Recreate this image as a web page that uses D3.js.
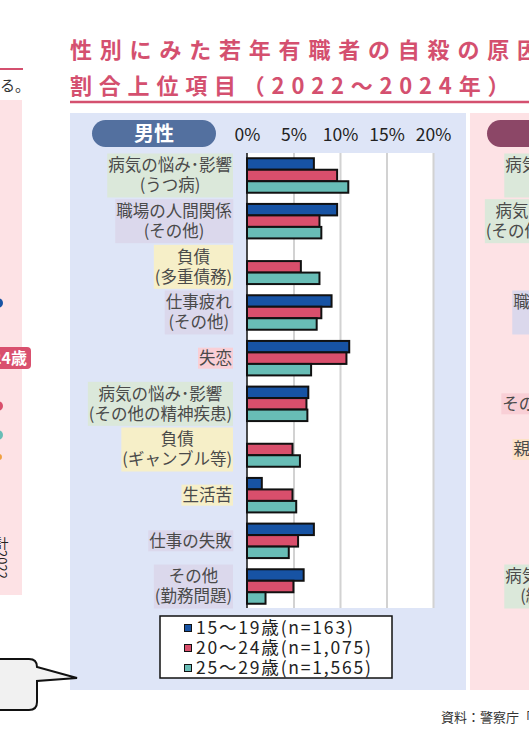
<!DOCTYPE html>
<html>
<head>
<meta charset="utf-8">
<script src="https://cdn.jsdelivr.net/npm/d3@7"></script>
<style>
html, body { margin: 0; padding: 0; background: #fff; overflow: hidden; }
svg { display: block; font-family: "Noto Sans CJK JP", "Noto Sans", sans-serif; }
</style>
</head>
<body>
<svg id="chart" width="529" height="751"></svg>
<script>
// --- data (% of cases) ---
const categories = [
	'病気の悩み･影響(うつ病)',
	'職場の人間関係(その他)',
	'負債(多重債務)',
	'仕事疲れ(その他)',
	'失恋',
	'病気の悩み･影響(その他の精神疾患)',
	'負債(ギャンブル等)',
	'生活苦',
	'仕事の失敗',
	'その他(勤務問題)'
]
const labelLines = [
	['病気の悩み･影響', '(うつ病)'],
	['職場の人間関係', '(その他)'],
	['負債', '(多重債務)'],
	['仕事疲れ', '(その他)'],
	['失恋'],
	['病気の悩み･影響', '(その他の精神疾患)'],
	['負債', '(ギャンブル等)'],
	['生活苦'],
	['仕事の失敗'],
	['その他', '(勤務問題)']
]
const labelTones = ['health', 'work', 'debt', 'work', 'love', 'health', 'debt', 'debt', 'work', 'work']

const ageGroups = ['15～19歳(n=163)', '20～24歳(n=1,075)', '25～29歳(n=1,565)']
const age15to19 = [7.3, 9.8, null, 9.2, 11.1, 6.7, null, 1.7, 7.3, 6.2]
const age20to24 = [9.8, 7.9, 5.9, 8.1, 10.8, 6.5, 5.0, 5.0, 5.6, 5.1]
const age25to29 = [11.0, 8.1, 7.9, 7.6, 7.0, 6.6, 5.8, 5.4, 4.6, 2.1]
const tickValues = [0, 5, 10, 15, 20]

// female panel, only the left edge is inside the picture
const femaleLabelLines = [
	['病気の悩み･影響', '(うつ病)'],
	['病気の悩み･影響', '(その他の精神疾患)'],
	[],
	['職場の人間関係', '(その他)'],
	[],
	['その他(交際問題)'],
	['親子関係の不和'],
	[],
	[],
	['病気の悩み･影響', '(統合失調症)']
]
const femaleLabelTones = ['health', 'health', '', 'work', '', 'love', 'family', '', '', 'health']

const toneColors = {
	health: '#dbe8da',
	work: '#dbd8ec',
	debt: '#f6efc8',
	love: '#f9cfd6',
	family: '#fde2c6'
}
const seriesColors = ['#1753a4', '#d94f6c', '#68bdb6']

const svg = d3.select('#chart')

// --- backgrounds and cropped neighbours ---
function drawSurroundings() {
	svg.append('rect').attr('x', 0).attr('y', 100).attr('width', 22).attr('height', 495).attr('fill', '#fde2e5')
	svg.append('rect').attr('x', 70).attr('y', 113).attr('width', 396).attr('height', 577).attr('fill', '#dee5f7')
	svg.append('rect').attr('x', 470).attr('y', 113).attr('width', 100).attr('height', 577).attr('fill', '#fde2e5')

	// left page fragment
	svg.append('line').attr('x1', 0).attr('x2', 23).attr('y1', 69).attr('y2', 69)
		.attr('stroke', '#d4506f').attr('stroke-width', 2)
	svg.append('text').attr('x', 30).attr('y', 91).attr('text-anchor', 'end')
		.attr('font-size', 15).attr('fill', '#333').text('る。')
	svg.append('circle').attr('cx', -2).attr('cy', 303).attr('r', 5).attr('fill', seriesColors[0])
	svg.append('rect').attr('x', -40).attr('y', 347).attr('width', 71).attr('height', 22).attr('rx', 4)
		.attr('fill', '#d9506e')
	svg.append('text').attr('x', 27).attr('y', 358).attr('dy', '0.36em').attr('text-anchor', 'end')
		.attr('font-size', 16).attr('font-weight', 'bold').attr('fill', '#fff').text('20～24歳')
	svg.append('circle').attr('cx', -2).attr('cy', 406).attr('r', 5).attr('fill', seriesColors[1])
	svg.append('circle').attr('cx', -2).attr('cy', 435).attr('r', 5).attr('fill', seriesColors[2])
	svg.append('circle').attr('cx', -1).attr('cy', 457).attr('r', 3).attr('fill', '#f0a040')
	svg.append('text').attr('x', 2).attr('y', 537)
		.attr('font-size', 13).attr('fill', '#222')
		.style('writing-mode', 'vertical-rl')
		.text('計2022')

	// speech bubble
	svg.append('path')
		.attr('d', 'M-20,659 H29 Q37,659 37,667 L77,678 L37,681 V702 Q37,710 29,710 H-20 Z')
		.attr('fill', '#f1f1f1').attr('stroke', '#111').attr('stroke-width', 2)

	// source
	svg.append('text').attr('x', 441).attr('y', 722).attr('font-size', 13).attr('fill', '#333')
		.text('資料：警察庁「自殺統計」より厚生労働省作成')
}

function drawTitle() {
	const t = svg.append('g').attr('fill', '#d4506f').attr('font-weight', 'bold').attr('font-size', 22)
	t.append('text').attr('x', 70).attr('y', 58).style('letter-spacing', '7.8px')
		.text('性別にみた若年有職者の自殺の原因・動機')
	t.append('text').attr('x', 70).attr('y', 94).style('letter-spacing', '6.8px')
		.text('割合上位項目（2022～2024年）')
	svg.append('line').attr('x1', 70).attr('x2', 529).attr('y1', 102).attr('y2', 102)
		.attr('stroke', '#d4506f').attr('stroke-width', 2.5)
}

function drawPill(x, label, color) {
	svg.append('rect').attr('x', x).attr('y', 120).attr('width', 124).attr('height', 27).attr('rx', 13.5)
		.attr('fill', color)
	svg.append('text').attr('x', x + 62).attr('y', 133.5).attr('dy', '0.36em').attr('text-anchor', 'middle')
		.attr('font-size', 20).attr('font-weight', 'bold').attr('fill', '#fff').text(label)
}

function drawLabel(lines, tone, rightX, cy) {
	if (!lines.length) return
	const grp = svg.append('g')
	const box = grp.append('rect').attr('fill', toneColors[tone])
	lines.forEach((t, i) => {
		grp.append('text')
			.attr('x', 0)
			.attr('y', (i - (lines.length - 1) / 2) * 20)
			.attr('dy', '0.36em')
			.attr('text-anchor', 'middle')
			.attr('font-size', 16.5)
			.attr('fill', '#4a4a4a')
			.text(t)
	})
	const bb = grp.node().getBBox()
	const h = lines.length === 1 ? 21 : 44
	box.attr('x', bb.x - 1).attr('width', bb.width + 2).attr('y', -h / 2).attr('height', h)
	grp.attr('transform', `translate(${rightX - bb.width / 2 - 1},${cy})`)
}

function drawChart() {
	const x = d3.scaleLinear().domain([0, 20]).range([247, 433])
	const y = d3.scaleBand().domain(categories).range([153, 609]).paddingInner(0.245).paddingOuter(0.115)
	const inner = d3.scaleBand().domain(ageGroups).range([0, y.bandwidth()])

	svg.append('rect').attr('x', x(0)).attr('y', 153).attr('width', x(20) - x(0)).attr('height', 455)
		.attr('fill', '#fff')

	const grid = svg.append('g').attr('transform', 'translate(0,153)')
		.call(d3.axisBottom(x).tickValues(tickValues.slice(1)).tickSize(455).tickFormat(''))
	grid.select('.domain').remove()
	grid.selectAll('line').attr('stroke', '#d2d2d2').attr('stroke-width', 2)

	const top = svg.append('g').attr('transform', 'translate(0,141)')
		.call(d3.axisTop(x).tickValues(tickValues).tickSize(0).tickPadding(0).tickFormat(d => d + '%'))
	top.select('.domain').remove()
	top.selectAll('text').attr('font-size', 17.5).attr('fill', '#222')
		.attr('font-family', '"Noto Sans CJK JP", sans-serif')

	const series = [age15to19, age20to24, age25to29]
	const rows = []
	series.forEach((vals, s) => {
		vals.forEach((v, i) => {
			if (v != null) rows.push({ cat: categories[i], age: ageGroups[s], value: v, s: s })
		})
	})

	svg.append('g').selectAll('rect')
		.data(rows)
		.join('rect')
		.attr('x', x(0))
		.attr('y', d => y(d.cat) + inner(d.age))
		.attr('width', d => x(d.value) - x(0) - 1)
		.attr('height', inner.bandwidth())
		.attr('fill', d => seriesColors[d.s])
		.attr('stroke', '#111')
		.attr('stroke-width', 2)

	svg.append('line').attr('x1', x(0)).attr('x2', x(0)).attr('y1', 153).attr('y2', 608)
		.attr('stroke', '#111').attr('stroke-width', 1.5)

	categories.forEach((c, i) => {
		drawLabel(labelLines[i], labelTones[i], 233, y(c) + y.bandwidth() / 2)
	})
	categories.forEach((c, i) => {
		drawLabel(femaleLabelLines[i], femaleLabelTones[i], 630, y(c) + y.bandwidth() / 2)
	})

	// legend
	svg.append('rect').attr('x', 160).attr('y', 616).attr('width', 232).attr('height', 62)
		.attr('fill', '#fff').attr('stroke', '#111').attr('stroke-width', 1.5)
	const leg = svg.append('g').selectAll('g')
		.data(ageGroups)
		.join('g')
		.attr('transform', (d, i) => `translate(184,${628 + i * 20})`)
	leg.append('rect').attr('x', 0.5).attr('y', -3.5).attr('width', 7).attr('height', 7)
		.attr('fill', (d, i) => seriesColors[i]).attr('stroke', '#111').attr('stroke-width', 1)
	leg.append('text').attr('x', 12).attr('dy', '0.36em').attr('font-size', 17.5)
		.style('letter-spacing', '1.8px').attr('fill', '#222').text(d => d)
}

drawSurroundings()
drawTitle()
drawPill(92, '男性', '#53709f')
drawPill(487, '女性', '#8c4767')
drawChart()
</script>
</body>
</html>
